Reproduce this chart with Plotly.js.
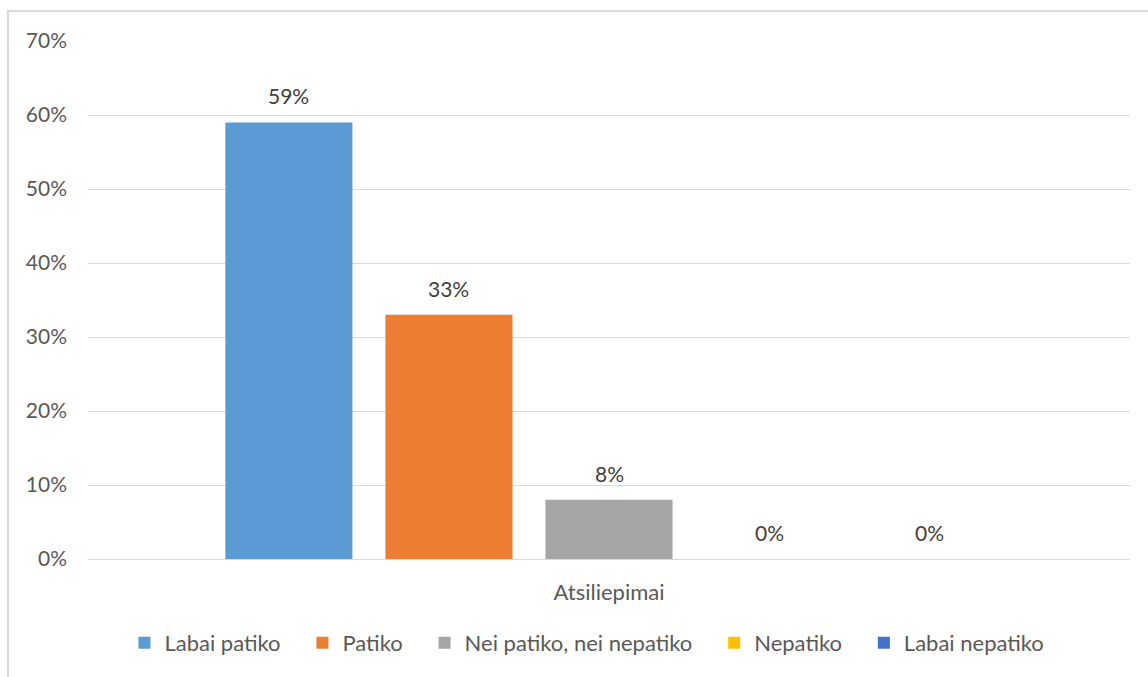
<!DOCTYPE html>
<html>
<head>
<meta charset="utf-8">
<script src="https://cdn.plot.ly/plotly-3.0.1.min.js"></script>
<style>
  html, body { margin: 0; padding: 0; background: #fff; }
  #chart { width: 1148px; height: 677px; }
</style>
</head>
<body>
<div id="chart"></div>
<script>
// Survey feedback shares
const category = ['Atsiliepimai'];
const seriesNames = ['Labai patiko', 'Patiko', 'Nei patiko, nei nepatiko', 'Nepatiko', 'Labai nepatiko'];
const seriesValues = [0.59, 0.33, 0.08, 0.00, 0.00];
const seriesColors = ['#5B9BD5', '#ED7D31', '#A5A5A5', '#FFC000', '#4472C4'];
const yTickValues = [0, 0.1, 0.2, 0.3, 0.4, 0.5, 0.6, 0.7];

const FONT = 'Lato, "Open Sans", sans-serif';
const TEXT = '#595959';
const BARGAP = 0.232;
const BARGROUPGAP = 0.206;
// extra room after each legend entry
const LEGEND_PAD = '\u00A0\u00A0\u00A0';

const traces = seriesNames.map((name, i) => ({
  type: 'bar',
  name: name + LEGEND_PAD,
  x: category,
  y: [seriesValues[i]],
  marker: { color: seriesColors[i] },
  hoverinfo: 'skip'
}));

// Value labels sit centred over each bar of the group, a little above its top
const slot = (1 - BARGAP) / seriesNames.length;
const valueLabels = seriesValues.map((v, i) => ({
  xref: 'x', yref: 'y',
  x: -(1 - BARGAP) / 2 + slot * (i + 0.5),
  y: v,
  text: Math.round(v * 100) + '%',
  showarrow: false,
  xanchor: 'center',
  yanchor: 'bottom',
  yshift: 12,
  font: { family: FONT, size: 21, color: '#404040' }
}));

const layout = {
  width: 1148,
  height: 677,
  margin: { l: 88, r: 18, t: 41, b: 118 },
  paper_bgcolor: '#ffffff',
  plot_bgcolor: '#ffffff',
  font: { family: FONT, size: 21, color: TEXT },
  barmode: 'group',
  bargap: BARGAP,
  bargroupgap: BARGROUPGAP,
  showlegend: true,
  legend: {
    orientation: 'h',
    x: 0.487, xanchor: 'center',
    y: -0.162, yanchor: 'middle',
    font: { family: FONT, size: 22, color: TEXT },
    itemclick: false
  },
  xaxis: {
    type: 'category',
    range: [-0.5, 0.5],
    showgrid: false,
    showline: false,
    zeroline: false,
    ticks: '',
    tickfont: { family: FONT, size: 22, color: TEXT },
    ticklabelstandoff: 18
  },
  yaxis: {
    range: [0, 0.7],
    tickvals: yTickValues,
    tickformat: '.0%',
    showgrid: true,
    gridcolor: '#d9d9d9',
    gridwidth: 1,
    zeroline: true,
    zerolinecolor: '#d9d9d9',
    zerolinewidth: 1,
    showline: false,
    ticks: '',
    ticklabelstandoff: 20,
    tickfont: { family: FONT, size: 21, color: TEXT }
  },
  annotations: valueLabels,
  shapes: [{
    type: 'rect',
    xref: 'paper', yref: 'paper',
    x0: -0.0768, x1: 1.2,
    y0: -0.6, y1: 1.058,
    line: { color: '#d9d9d9', width: 2 },
    fillcolor: 'rgba(0,0,0,0)',
    layer: 'below'
  }]
};

Plotly.newPlot('chart', traces, layout, { staticPlot: true, displayModeBar: false });
</script>
</body>
</html>
